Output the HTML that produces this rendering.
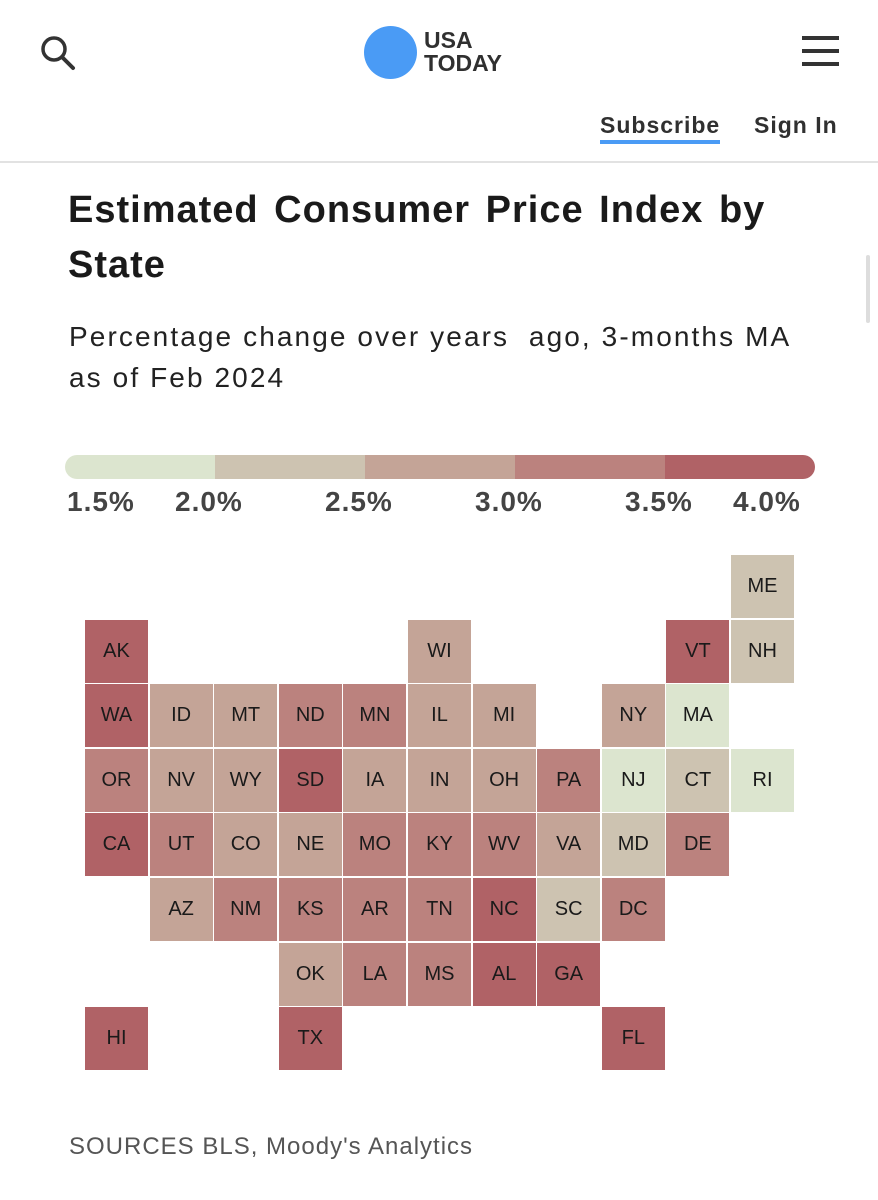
<!DOCTYPE html>
<html><head><meta charset="utf-8">
<style>
body{margin:0;width:878px;height:1200px;background:#fff;position:relative;overflow:hidden;font-family:"Liberation Sans",sans-serif;}
.a{position:absolute;}
.hd{font-weight:bold;color:#303030;}
.lbl{position:absolute;top:486px;font-size:28px;font-weight:bold;color:#444;letter-spacing:1px;}
.cell{position:absolute;width:63px;height:63px;display:flex;align-items:center;justify-content:center;font-size:20px;color:#1a1a1a;}
</style></head><body>
<svg class="a" style="left:38px;top:33px" width="40" height="40" viewBox="0 0 40 40"><circle cx="16" cy="16" r="11" fill="none" stroke="#333" stroke-width="3.5"/><line x1="24" y1="24" x2="35" y2="35" stroke="#333" stroke-width="4" stroke-linecap="round"/></svg>
<div class="a" style="left:364px;top:26px;width:152px;height:56px">
<div class="a" style="left:0;top:0;width:53px;height:53px;border-radius:50%;background:#4a9bf5"></div>
<div class="a hd" style="left:60px;top:3px;font-size:23px;line-height:23px">USA<br>TODAY</div>
</div>
<div class="a" style="left:802px;top:36px;width:37px;height:30px">
<div class="a" style="top:0;width:37px;height:3.5px;background:#333"></div>
<div class="a" style="top:13px;width:37px;height:3.5px;background:#333"></div>
<div class="a" style="top:26px;width:37px;height:3.5px;background:#333"></div>
</div>
<div class="a hd" style="left:600px;top:112px;font-size:23px;letter-spacing:1px;border-bottom:4px solid #4a9bf5;padding-bottom:1px">Subscribe</div>
<div class="a hd" style="left:754px;top:112px;font-size:23px;letter-spacing:1px">Sign In</div>
<div class="a" style="left:0;top:161px;width:878px;height:2px;background:#e2e2e2"></div>
<div class="a" style="left:866px;top:255px;width:4px;height:68px;background:#ddd;border-radius:2px"></div>
<div class="a" style="left:68px;top:183px;font-size:38px;font-weight:bold;color:#1a1a1a;line-height:55px;width:800px;letter-spacing:1px;word-spacing:4px">Estimated Consumer Price Index by<br>State</div>
<div class="a" style="left:69px;top:316px;font-size:28px;color:#222;line-height:41px;width:790px;letter-spacing:2.1px">Percentage change over years&nbsp; ago, 3-months MA<br>as of Feb 2024</div>
<div class="a" style="left:65px;top:455px;width:750px;height:24px;border-radius:12px;overflow:hidden;display:flex">
<div style="flex:1;background:#dce5cf"></div><div style="flex:1;background:#cdc3b1"></div><div style="flex:1;background:#c4a497"></div><div style="flex:1;background:#bb827e"></div><div style="flex:1;background:#b06266"></div>
</div>
<div class="lbl" style="left:67px">1.5%</div>
<div class="lbl" style="left:175px">2.0%</div>
<div class="lbl" style="left:325px">2.5%</div>
<div class="lbl" style="left:475px">3.0%</div>
<div class="lbl" style="left:625px">3.5%</div>
<div class="lbl" style="left:733px">4.0%</div>
<div class="a" id="map" style="left:0;top:0"></div>
<div class="a" style="left:69px;top:1133px;font-size:24px;color:#555;letter-spacing:1px">SOURCES BLS, Moody's Analytics</div>
<script>
const states=["ME","AK","WI","VT","NH","WA","ID","MT","ND","MN","IL","MI","NY","MA","OR","NV","WY","SD","IA","IN","OH","PA","NJ","CT","RI","CA","UT","CO","NE","MO","KY","WV","VA","MD","DE","AZ","NM","KS","AR","TN","NC","SC","DC","OK","LA","MS","AL","GA","HI","TX","FL"];
const cols=[10,0,5,9,10,0,1,2,3,4,5,6,8,9,0,1,2,3,4,5,6,7,8,9,10,0,1,2,3,4,5,6,7,8,9,1,2,3,4,5,6,7,8,3,4,5,6,7,0,3,8];
const rows=[0,1,1,1,1,2,2,2,2,2,2,2,2,2,3,3,3,3,3,3,3,3,3,3,3,4,4,4,4,4,4,4,4,4,4,5,5,5,5,5,5,5,5,6,6,6,6,6,7,7,7];
const values=[2.3,3.8,2.8,3.8,2.3,3.8,2.8,2.8,3.3,3.3,2.8,2.8,2.8,1.8,3.3,2.8,2.8,3.8,2.8,2.8,2.8,3.3,1.8,2.3,1.8,3.8,3.3,2.8,2.8,3.3,3.3,3.3,2.8,2.3,3.3,2.8,3.3,3.3,3.3,3.3,3.8,2.3,3.3,2.8,3.3,3.3,3.8,3.8,3.8,3.8,3.8];
const binEdges=[1.5,2.0,2.5,3.0,3.5,4.0];
const binColors=["#dce5cf","#cdc3b1","#c4a497","#bb827e","#b06266"];
function color(v){for(let i=0;i<5;i++){if(v<binEdges[i+1])return binColors[i];}return binColors[4];}
function xPos(c){return 85+c*64.6;}
function yPos(r){return 555+r*64.6;}
const map=document.getElementById('map');
states.forEach((s,i)=>{
const d=document.createElement('div');
d.className='cell';


d.style.left=xPos(cols[i])+'px';
d.style.top=yPos(rows[i])+'px';
d.style.background=color(values[i]);
d.textContent=s;
map.appendChild(d);
});
</script>
</body></html>
